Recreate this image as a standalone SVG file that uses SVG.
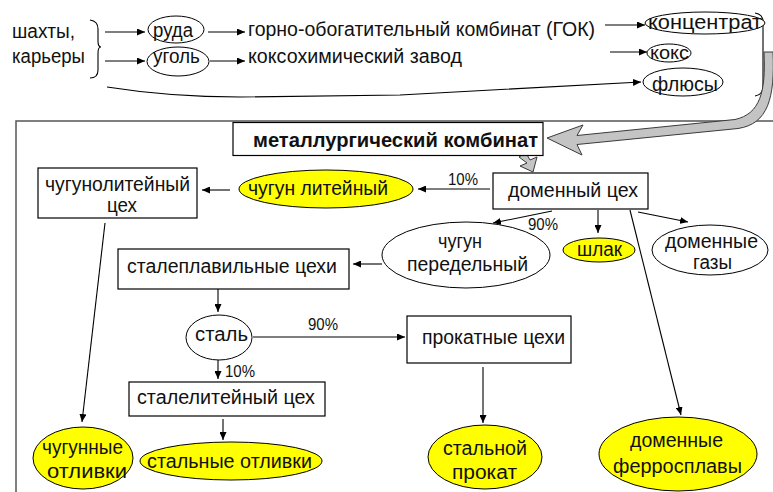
<svg xmlns="http://www.w3.org/2000/svg" width="773" height="492" viewBox="0 0 773 492">
<defs>
<marker id="ah" markerUnits="userSpaceOnUse" markerWidth="8" markerHeight="7" refX="8" refY="3.5" orient="auto">
<path d="M0,0 L8,3.5 L0,7 z" fill="#000"/>
</marker>
<style>
text{font-family:"Liberation Sans",Arial,sans-serif;font-size:20px;fill:#111}
.b{font-weight:bold}
.s{font-size:18px}
.p{font-size:17px}
.box{fill:#fff;stroke:#000;stroke-width:1.2}
.el{fill:#fff;stroke:#000;stroke-width:1}
.y{fill:#ffff00;stroke:#000;stroke-width:1}
.c{fill:none;stroke:#000;stroke-width:1.1}
.a{marker-end:url(#ah)}
.g{fill:#c4c4c4;stroke:#3a3a3a;stroke-width:1}
</style>
</defs>
<rect width="773" height="492" fill="#fff"/>
<path d="M16,492 L16,121 L773,121" fill="none" stroke="#555" stroke-width="1.5"/>
<g id="connectors">
<path class="c" d="M90,20 Q98,21 98,29 L98,41 Q98,47 101,47 Q98,47 98,53 L98,70 Q98,78 90,78"/>
<path class="c a" d="M105,32 L145,32"/>
<path class="c a" d="M105,61 L145,61"/>
<path class="c a" d="M208,32 L245,32"/>
<path class="c a" d="M210,61 L245,61"/>
<path class="c a" d="M605,25 L645,25"/>
<path class="c a" d="M610,52 L647,52"/>
<path class="c a" d="M107,87 Q170,97 240,97 L400,95 L641,82"/>
<path class="c" d="M755,13 Q763,14 763,22 L763,86 Q763,95 755,96"/>
<path class="g" d="M764,52 C766,92 760,114 735,119.5 L577,135.5 L583,125 L547,138 L582,155 L577,144.5 L738,128.5 C768,124 775,98 773,52 Z"/>
<path class="g" d="M519,157 L526,153 L530,160 L537,157 L533,172 L520,166 L527,163 Z"/>
<path class="c a" d="M490,189 L418,189"/>
<path class="c a" d="M230,190 L202,190"/>
<path class="c a" d="M552,211 L493,223"/>
<path class="c a" d="M598,210 L598,233"/>
<path class="c a" d="M638,212 L688,222"/>
<path class="c a" d="M630,210 L681,415"/>
<path class="c a" d="M382,264 L353,264"/>
<path class="c a" d="M218,289 L218,312"/>
<path class="c a" d="M253,337 L405,337"/>
<path class="c a" d="M218,360 L218,379"/>
<path class="c a" d="M223,419 L223,440"/>
<path class="c a" d="M483,367 L483,423"/>
<path class="c a" d="M105,223 L82,422"/>
<text class="p" x="448" y="185" textLength="30" lengthAdjust="spacingAndGlyphs">10%</text>
<text class="p" x="528" y="230" textLength="30" lengthAdjust="spacingAndGlyphs">90%</text>
<text class="p" x="308" y="330" textLength="30" lengthAdjust="spacingAndGlyphs">90%</text>
<text class="p" x="225" y="377" textLength="30" lengthAdjust="spacingAndGlyphs">10%</text>
</g>
<g id="sources">
<text x="12" y="38" textLength="63" lengthAdjust="spacingAndGlyphs">шахты,</text>
<text x="12" y="63" textLength="73" lengthAdjust="spacingAndGlyphs">карьеры</text>
</g>
<g id="ruda"><ellipse class="el" cx="176" cy="29.5" rx="28" ry="13.5"/><text x="153" y="37" textLength="40" lengthAdjust="spacingAndGlyphs">руда</text></g>
<g id="ugol"><ellipse class="el" cx="178" cy="61.5" rx="31" ry="14.5"/><text x="153" y="63" textLength="47" lengthAdjust="spacingAndGlyphs">уголь</text></g>
<g id="gok"><text x="248" y="36" textLength="347" lengthAdjust="spacingAndGlyphs">горно-обогатительный комбинат (ГОК)</text></g>
<g id="koksokhim"><text x="248" y="63" textLength="214" lengthAdjust="spacingAndGlyphs">коксохимический завод</text></g>
<g id="koncentrat"><ellipse class="el" cx="705" cy="23" rx="60" ry="11"/><text x="648" y="29" textLength="114" lengthAdjust="spacingAndGlyphs">концентрат</text></g>
<g id="koks"><ellipse class="el" cx="669" cy="53" rx="22" ry="9"/><text class="s" x="650" y="58.5" textLength="39" lengthAdjust="spacingAndGlyphs">кокс</text></g>
<g id="flyusy"><ellipse class="el" cx="683" cy="82" rx="40" ry="14"/><text x="652" y="91" textLength="66" lengthAdjust="spacingAndGlyphs">флюсы</text></g>
<g id="metkombinat"><rect class="box" x="233" y="122.5" width="310" height="33"/><text class="b" x="253" y="147" textLength="285" lengthAdjust="spacingAndGlyphs">металлургический комбинат</text></g>
<g id="domennyj"><rect class="box" x="493" y="173" width="155" height="36"/><text x="508" y="197" textLength="130" lengthAdjust="spacingAndGlyphs">доменный цех</text></g>
<g id="chugunolit"><rect class="box" x="38" y="168" width="159" height="50"/><text x="45" y="191" textLength="145" lengthAdjust="spacingAndGlyphs">чугунолитейный</text><text x="107" y="212" textLength="30" lengthAdjust="spacingAndGlyphs">цех</text></g>
<g id="chugunlit"><ellipse class="y" cx="326" cy="189" rx="87" ry="19"/><text x="248" y="195" textLength="140" lengthAdjust="spacingAndGlyphs">чугун литейный</text></g>
<g id="chugunpered"><ellipse class="el" cx="466" cy="255" rx="84" ry="33"/><text x="438" y="248" textLength="44" lengthAdjust="spacingAndGlyphs">чугун</text><text x="407" y="271" textLength="121" lengthAdjust="spacingAndGlyphs">передельный</text></g>
<g id="shlak"><ellipse class="y" cx="599" cy="250" rx="36" ry="12"/><text x="577" y="256" textLength="45" lengthAdjust="spacingAndGlyphs">шлак</text></g>
<g id="gazy"><ellipse class="el" cx="710" cy="250" rx="58" ry="25"/><text x="665" y="248" textLength="93" lengthAdjust="spacingAndGlyphs">доменные</text><text x="693" y="269" textLength="39" lengthAdjust="spacingAndGlyphs">газы</text></g>
<g id="staleplav"><rect class="box" x="118" y="249" width="231" height="40"/><text x="127" y="273" textLength="210" lengthAdjust="spacingAndGlyphs">сталеплавильные цехи</text></g>
<g id="stal"><ellipse class="el" cx="219" cy="337.5" rx="33" ry="22.5"/><text x="195" y="341" textLength="53" lengthAdjust="spacingAndGlyphs">сталь</text></g>
<g id="prokatnye"><rect class="box" x="407" y="316" width="164" height="47"/><text x="422" y="344" textLength="143" lengthAdjust="spacingAndGlyphs">прокатные цехи</text></g>
<g id="stalelit"><rect class="box" x="129" y="382" width="196" height="34"/><text x="137" y="404" textLength="178" lengthAdjust="spacingAndGlyphs">сталелитейный цех</text></g>
<g id="stalotl"><ellipse class="y" cx="231" cy="461" rx="91" ry="19"/><text x="147" y="468" textLength="165" lengthAdjust="spacingAndGlyphs">стальные отливки</text></g>
<g id="chugotl"><ellipse class="y" cx="83" cy="458" rx="50" ry="31"/><text x="42" y="454" textLength="81" lengthAdjust="spacingAndGlyphs">чугунные</text><text x="47" y="478" textLength="80" lengthAdjust="spacingAndGlyphs">отливки</text></g>
<g id="stalprokat"><ellipse class="y" cx="485" cy="457" rx="57" ry="32"/><text x="443" y="455" textLength="84" lengthAdjust="spacingAndGlyphs">стальной</text><text x="452" y="479" textLength="65" lengthAdjust="spacingAndGlyphs">прокат</text></g>
<g id="ferro"><ellipse class="y" cx="678" cy="454" rx="79" ry="37"/><text x="630" y="447" textLength="93" lengthAdjust="spacingAndGlyphs">доменные</text><text x="613" y="473" textLength="129" lengthAdjust="spacingAndGlyphs">ферросплавы</text></g>
</svg>
